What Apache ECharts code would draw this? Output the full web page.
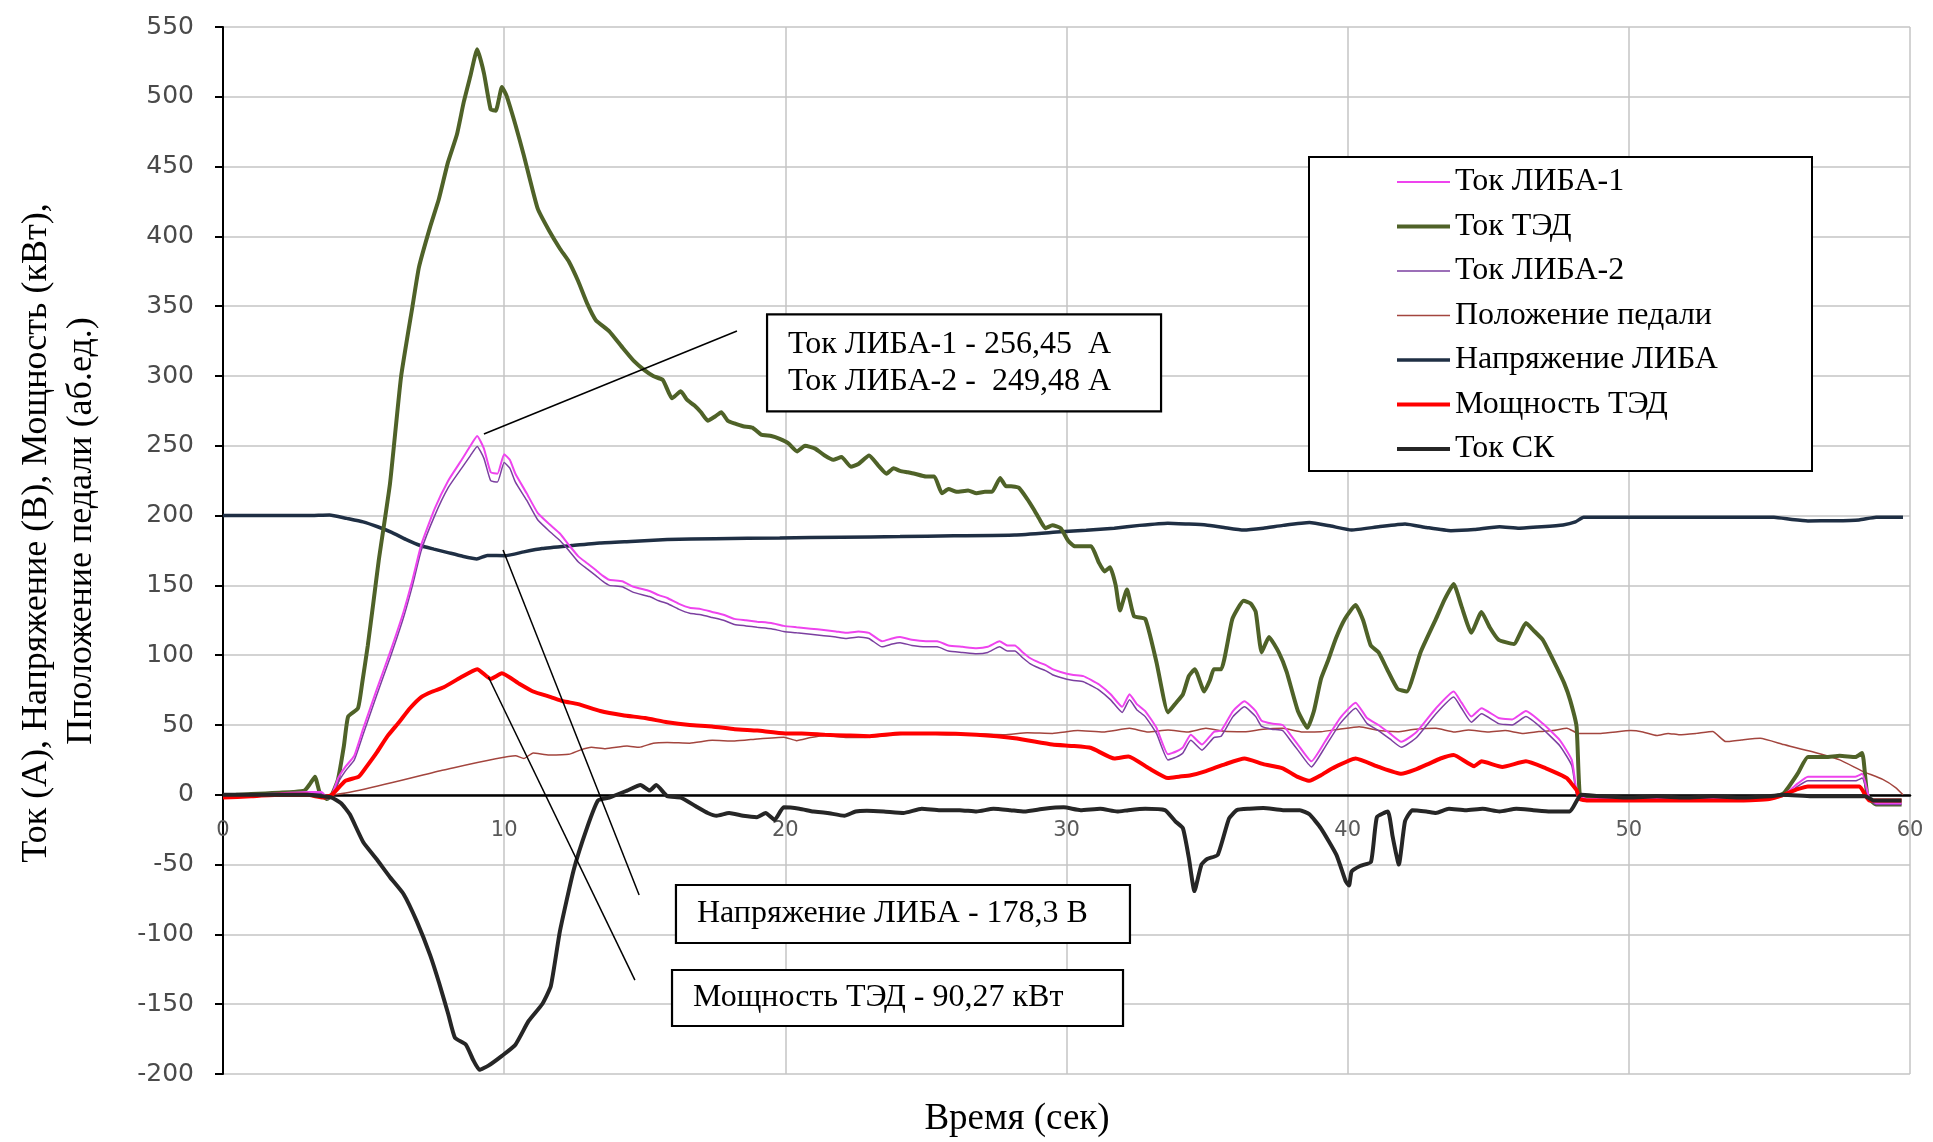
<!DOCTYPE html>
<html><head><meta charset="utf-8">
<script src="https://cdn.jsdelivr.net/npm/echarts@6/dist/echarts.min.js"></script>
<style>html,body{margin:0;padding:0;background:#fff}#c{width:1933px;height:1142px}</style>
</head><body><div id="c"></div>
<script>
// ---------- DATA ----------
const seriesNames = ['Ток ЛИБА-1','Ток ТЭД','Ток ЛИБА-2','Положение педали','Напряжение ЛИБА','Мощность ТЭД','Ток СК'];
const xRange = [0, 60, 10];
const yRange = [-200, 550, 50];

const tokLiba1 = [[0,-1],[1,0],[2,1],[3,2],[3.5,2],[3.7,-2],[3.87,0],[4.1,12],[4.35,20],[4.67,28],[4.98,47],[5.46,75],[5.94,102],[6.42,131],[6.74,154],[7.05,179],[7.53,205],[8.01,225],[8.49,240],[8.8,250],[9.04,257],[9.28,248],[9.52,231],[9.76,230],[10.0,244],[10.2,240],[10.4,230],[10.8,216],[11.19,202],[11.6,194],[11.99,187],[12.3,179],[12.63,171],[12.94,166],[13.26,161],[13.5,157],[13.74,154],[14.2,153],[14.6,149],[15.17,146],[15.5,143],[15.8,141],[16.2,137],[16.6,134],[17.0,133],[17.4,131],[17.8,129],[18.19,126],[18.6,125],[19.0,124],[19.5,123],[19.94,121],[20.4,120],[20.9,119],[21.37,118],[21.8,117],[22.16,116],[22.6,117],[22.97,116],[23.44,110],[23.8,112],[24.08,113],[24.5,111],[25.0,110],[25.4,110],[25.8,107],[26.3,106],[26.8,105],[27.2,106],[27.62,110],[27.9,107],[28.16,107],[28.45,102],[28.7,98],[29.0,95],[29.25,93],[29.5,90],[29.79,88],[30.2,86],[30.6,85],[30.9,82],[31.16,79],[31.57,72],[31.98,63],[32.24,72],[32.5,65],[32.8,60],[33.2,48],[33.61,29],[33.9,31],[34.14,34],[34.42,43],[34.82,36],[35.24,45],[35.5,46],[35.92,60],[36.33,67],[36.73,60],[36.94,53],[37.3,51],[37.69,50],[38.0,42],[38.23,36],[38.71,24],[39.19,38],[39.73,55],[40.28,66],[40.69,55],[41.1,50],[41.5,44],[41.91,38],[42.45,45],[43.14,62],[43.77,74],[44.05,66],[44.4,56],[44.76,62],[45.37,55],[45.85,54],[46.34,60],[46.94,51],[47.55,39],[47.97,25],[48.14,3],[48.26,-1],[48.5,-3],[50,-3],[52,-3],[54,-3],[55.5,0],[56.0,8],[56.37,13],[57,13],[58.06,13],[58.3,15],[58.55,-2],[58.8,-6],[59.7,-6]];

const tokLiba2 = [[0,-2],[1,-1],[2,0],[3,1],[3.5,1],[3.7,-3],[3.87,-1],[4.1,9],[4.35,17],[4.67,25],[4.98,43],[5.46,71],[5.94,98],[6.42,127],[6.74,150],[7.05,175],[7.53,200],[8.01,220],[8.49,234],[8.8,243],[9.04,249.5],[9.28,241],[9.52,225],[9.76,224],[10.0,238],[10.2,234],[10.4,224],[10.8,211],[11.19,197],[11.6,189],[11.99,182],[12.3,175],[12.63,167],[12.94,162],[13.26,157],[13.5,153],[13.74,150],[14.2,149],[14.6,145],[15.17,142],[15.5,139],[15.8,137],[16.2,133],[16.6,130],[17.0,129],[17.4,127],[17.8,125],[18.19,122],[18.6,121],[19.0,120],[19.5,119],[19.94,117],[20.4,116],[20.9,115],[21.37,114],[21.8,113],[22.16,112],[22.6,113],[22.97,112],[23.44,106],[23.8,108],[24.08,109],[24.5,107],[25.0,106],[25.4,106],[25.8,103],[26.3,102],[26.8,101],[27.2,102],[27.62,106],[27.9,103],[28.16,103],[28.45,98],[28.7,94],[29.0,91],[29.25,89],[29.5,86],[29.79,84],[30.2,82],[30.6,81],[30.9,78],[31.16,75],[31.57,68],[31.98,59],[32.24,68],[32.5,61],[32.8,56],[33.2,44],[33.61,25],[33.9,27],[34.14,30],[34.42,39],[34.82,32],[35.24,41],[35.5,42],[35.92,56],[36.33,63],[36.73,56],[36.94,49],[37.3,47],[37.69,46],[38.0,38],[38.23,32],[38.71,20],[39.19,34],[39.73,51],[40.28,62],[40.69,51],[41.1,46],[41.5,40],[41.91,34],[42.45,41],[43.14,58],[43.77,70],[44.05,62],[44.4,52],[44.76,58],[45.37,51],[45.85,50],[46.34,56],[46.94,47],[47.55,35],[47.97,21],[48.14,0],[48.26,-3],[48.5,-4],[50,-4],[52,-4],[54,-4],[55.5,-1],[56.0,6],[56.37,10],[57,10],[58.06,10],[58.3,12],[58.55,-3],[58.8,-7],[59.7,-7]];

const tokTed = [[0,-1],[0.5,0],[1,0.5],[1.5,1],[2,1.5],[2.5,2],[2.9,3],[3.1,8],[3.27,13],[3.45,1],[3.7,-3],[3.87,0],[4.09,11],[4.3,35],[4.45,56],[4.8,62],[4.95,80],[5.15,107],[5.35,138],[5.54,168],[5.94,223],[6.33,299],[6.74,350],[6.97,378],[7.37,407],[7.68,427],[8.0,453],[8.32,473],[8.56,496],[8.8,515],[9.04,534],[9.28,517],[9.52,491],[9.7,490],[9.92,507],[10.08,501],[10.4,480],[10.7,458],[11.19,420],[11.6,404],[11.99,391],[12.3,382],[12.63,368],[12.95,352],[13.26,340],[13.74,332],[14.22,320],[14.6,311],[15.0,304],[15.3,300],[15.65,297],[15.97,284],[16.28,289],[16.5,283],[16.76,279],[17.0,274],[17.24,268],[17.5,271],[17.72,274],[17.95,268],[18.19,266],[18.5,264],[18.83,263],[19.14,258],[19.5,257],[19.8,255],[20.1,252],[20.42,246],[20.7,250],[21.06,248],[21.4,243],[21.7,240],[22.0,242],[22.33,235],[22.6,237],[22.98,243],[23.3,236],[23.6,230],[23.85,234],[24.08,232],[24.35,231],[24.6,230],[25.0,228],[25.3,228],[25.57,216],[25.8,219],[26.1,217],[26.5,218],[26.8,216],[27.1,217],[27.35,217],[27.64,227],[27.85,221],[28.03,221],[28.3,220],[28.6,212],[28.85,204],[29.05,197],[29.25,191],[29.5,193],[29.79,191],[30.06,182],[30.3,178],[30.48,178],[30.7,178],[30.88,178],[31.16,166],[31.35,160],[31.55,163],[31.75,150],[31.9,132],[32.15,147],[32.4,128],[32.8,126],[33.2,95],[33.61,59],[33.9,66],[34.14,72],[34.35,85],[34.56,90],[34.9,74],[35.1,82],[35.24,90],[35.5,90],[35.9,126],[36.3,139],[36.55,137],[36.73,131],[36.94,102],[37.2,113],[37.55,102],[37.83,88],[38.23,60],[38.57,48],[38.8,60],[39.05,83],[39.3,96],[39.58,112],[39.9,126],[40.28,136],[40.55,125],[40.82,107],[41.1,102],[41.4,90],[41.77,76],[42.1,74],[42.59,102],[43.14,126],[43.45,140],[43.77,151],[44.05,135],[44.4,116],[44.76,131],[45.05,120],[45.37,111],[45.91,108],[46.34,123],[46.6,118],[46.94,111],[47.2,101],[47.42,92],[47.7,80],[47.91,68],[48.14,49],[48.26,-1],[48.5,-3],[49,-3],[50,-3],[51,-2],[52,-3],[53,-2],[54,-3],[55,-2],[55.5,1],[56.0,15],[56.37,27],[57,27],[57.5,28],[58.06,27],[58.3,30],[58.49,-1],[58.8,-7],[59.7,-7]];

const pedal = [[0,0],[3.87,0],[7.85,17.8],[10.4,28],[10.7,26],[11.03,30],[11.6,28.5],[12.3,29],[12.7,32],[13.1,34],[13.6,33],[14.37,35],[14.8,34],[15.3,37],[15.8,37.5],[16.6,37],[17.4,39],[18.2,38.5],[19.0,40],[19.95,41.3],[20.4,38.8],[20.9,41],[21.4,42.5],[22.2,41],[22.97,41.3],[23.9,43],[24.85,43.7],[25.8,43],[26.8,43.7],[27.8,43],[28.6,44.5],[29.5,44],[30.4,46],[31.3,45],[32.24,47.6],[32.9,45],[33.61,46.5],[34.3,45],[34.96,47.6],[35.6,45.5],[36.33,45.2],[37.0,47],[37.69,47.6],[38.4,45],[39.05,45.2],[39.7,47],[40.41,48.8],[41.1,46],[41.77,45.2],[42.4,47],[43.14,47.6],[43.8,45],[44.3,46.5],[45.0,45],[45.6,46],[46.2,44],[46.8,45.3],[47.3,46],[47.8,47.7],[48.2,44],[49,44],[50.07,46],[50.5,45],[51,42.5],[51.4,44],[51.8,43],[52.4,44],[52.98,45.3],[53.45,38.1],[54.0,39.3],[54.67,40.5],[55.5,36],[56.5,31],[57.5,25],[58.3,17],[59.03,11],[59.5,5],[59.75,0]];

const voltage = [[0,200],[1,200],[2,200],[3,200],[3.79,200.5],[4.4,198],[4.98,195.5],[5.5,192],[6.0,188],[6.5,183],[7.04,178.4],[7.5,176],[8.0,173.5],[8.5,171],[9.03,169],[9.4,171.5],[10.07,171.3],[10.7,174],[11.35,176.4],[12.4,178.5],[13.4,180.4],[14.5,181.5],[15.8,182.8],[17.5,183.5],[19.8,184],[22,184.5],[24.08,185],[26,185.5],[28.16,186.1],[29.8,188.4],[30.7,189.5],[31.7,191],[32.6,193],[33.6,194.6],[34.3,194],[34.96,193.3],[35.6,191.5],[36.3,189.7],[37.0,191],[37.7,193],[38.64,195],[39.4,192.5],[40.14,189.7],[41.1,192],[42.04,194],[42.8,191.5],[43.67,189.2],[44.5,190],[45.4,192],[46.1,191],[46.9,192],[47.66,193.3],[48.1,195.5],[48.39,198.8],[50,198.8],[52,198.8],[54,198.8],[55.16,198.8],[55.8,197.2],[56.37,196.2],[57.3,196.3],[58.19,196.9],[58.8,198.8],[59.75,198.8]];

const power = [[0,-2],[1,-1],[2,0],[3,0],[3.56,-2],[3.87,0],[4.35,10],[4.83,13],[5.1,20],[5.46,30],[5.85,42],[6.26,52],[6.65,62],[7.05,70],[7.45,74],[7.85,77],[8.45,84],[9.04,90],[9.52,83],[9.92,87],[10.5,80],[11.03,74],[11.66,70],[12.1,67],[12.63,65],[13.42,60],[14.22,57],[15.01,55],[15.8,52],[16.6,50],[17.39,49],[18.2,47],[19.0,46],[20.0,44],[20.58,44],[21.4,43],[22.17,42.5],[23.0,42],[24.08,44],[25.4,44],[26.8,43],[28.16,40.5],[29.5,36],[30.2,35],[30.88,33.5],[31.7,26],[32.2,27.5],[32.93,19],[33.61,12],[34.0,13],[34.42,14],[34.96,17],[35.65,22],[36.33,26],[37.0,22],[37.69,19],[38.2,13],[38.64,10],[39.05,14],[39.46,19],[40.28,26],[41.1,20],[41.91,15],[42.4,18],[42.86,22],[43.3,26],[43.77,28.5],[44.5,20.5],[44.76,24],[45.5,20],[46.34,24],[47.05,19],[47.5,15],[47.79,12],[48.14,3.4],[48.26,-3],[48.5,-4],[50,-4],[52,-4],[54,-4],[55,-3],[55.5,0],[56.0,4],[56.37,6],[58.2,6],[58.55,-4],[59.7,-4]];

const tokSk = [[0,0],[1,0],[2,0],[3,0],[3.5,-1],[3.87,-2],[4.2,-6],[4.51,-14],[4.99,-34],[5.46,-46],[5.94,-59],[6.42,-71],[6.9,-91],[7.37,-115],[7.69,-135],[8.01,-157],[8.25,-174],[8.64,-179],[8.9,-190],[9.12,-197],[9.44,-194],[9.92,-187],[10.4,-179],[10.87,-162],[11.35,-150],[11.66,-137],[11.98,-98],[12.47,-54],[12.94,-24],[13.34,-4],[13.74,-2],[14.37,3],[14.85,7],[15.17,3],[15.41,7],[15.8,-1],[16.28,-2],[16.8,-8],[17.24,-13],[17.56,-15],[18.0,-13],[18.5,-15],[18.99,-16],[19.3,-13],[19.62,-18],[19.94,-9],[20.5,-10],[21.0,-12],[21.5,-13],[22.1,-15],[22.5,-12],[22.9,-11.5],[23.5,-12],[24.2,-13],[24.85,-10],[25.5,-11],[26.2,-11],[26.8,-12],[27.4,-10],[28.0,-11],[28.5,-12],[29.2,-10],[29.9,-9],[30.5,-11],[31.2,-10],[31.8,-12],[32.2,-11],[32.8,-10],[33.5,-11],[33.87,-19],[34.14,-24],[34.35,-45],[34.55,-69],[34.8,-50],[35.0,-46],[35.38,-43],[35.78,-17],[36.06,-11],[36.5,-10],[37.0,-9.5],[37.7,-11],[38.3,-11],[38.64,-14],[39.05,-24],[39.6,-43],[39.93,-62],[40.05,-65],[40.14,-55],[40.44,-51],[40.83,-48],[41.04,-16],[41.43,-12],[41.6,-30],[41.82,-50],[42.04,-19],[42.3,-11],[42.8,-12],[43.14,-13],[43.6,-10],[44.2,-11],[44.8,-10],[45.4,-12],[46.0,-10],[46.6,-11],[47.2,-12],[47.9,-12],[48.3,0],[49,-1],[50,-2],[51,-1],[52,-2],[53,-1],[54,-2],[55,-1],[55.5,0],[56.5,-1],[58.4,-1],[58.7,-4],[59.7,-4]];

// annotations (data coordinates)
const leader1 = [[9.28,258.5],[18.28,332.2]];
const leader2 = [[9.96,175.4],[14.80,-71.8]];
const leader3 = [[9.44,84.4],[14.65,-132.7]];
const noteTexts = [
  ['Ток ЛИБА-1 - 256,45  А','Ток ЛИБА-2 -  249,48 А'],
  ['Напряжение ЛИБА - 178,3 В'],
  ['Мощность ТЭД - 90,27 кВт']
];
const noteAnchors = [[19.35,344.1],[16.11,-64.6],[15.97,-125.5]];
const xTitle = 'Время (сек)';
const yTitle = ['Ток (А), Напряжение (В), Мощность (кВт),','Пположение педали (аб.ед.)'];

// ---------- CHART ----------
const chart = echarts.init(document.getElementById('c'), null, {renderer:'canvas'});
const SERIF = '"Liberation Serif", "Times New Roman", serif';
const leaderStyle = {silent:true, symbol:['none','none'], label:{show:false}, emphasis:{disabled:true},
  lineStyle:{color:'#000', width:1.5, type:'solid'}};
const styles = {
  'Ток ЛИБА-1':['#EE44EE',2],
  'Ток ТЭД':['#4F6228',4],
  'Ток ЛИБА-2':['#7B3FA0',1.5],
  'Положение педали':['#A3453E',1.5],
  'Напряжение ЛИБА':['#1F2F44',3.5],
  'Мощность ТЭД':['#FF0000',4],
  'Ток СК':['#262626',4]
};
function mk(name, data, extra) {
  const [color, width] = styles[name];
  return Object.assign({name, type:'line', data, symbol:'none', showSymbol:false, smooth:0.15,
    lineStyle:{color, width}, itemStyle:{color}, emphasis:{disabled:true}}, extra || {});
}
// y-position of the zero line below the plot bottom (grid height * share of range below 0)
const gridTop = 27, gridBottom = 68, H = 1142;
const zeroOffset = (H - gridTop - gridBottom) * (0 - yRange[0]) / (yRange[1] - yRange[0]);

const option = {
  animation:false,
  backgroundColor:'#fff',
  grid:{left:223, right:23, top:gridTop, bottom:gridBottom, containLabel:false},
  xAxis:{type:'value', min:xRange[0], max:xRange[1], interval:xRange[2], position:'bottom', offset:-zeroOffset,
    axisLine:{onZero:false, lineStyle:{color:'#000', width:2.5}},
    axisTick:{show:false},
    axisLabel:{margin:25, fontFamily:'"DejaVu Sans", sans-serif', fontSize:21, color:'#595959', showMinLabel:true, showMaxLabel:true},
    splitLine:{show:true, lineStyle:{color:'#c4c4c4', width:1.5}}},
  yAxis:{type:'value', min:yRange[0], max:yRange[1], interval:yRange[2],
    axisLine:{show:true, onZero:false, lineStyle:{color:'#000', width:2}},
    axisTick:{show:true, inside:false, length:8, lineStyle:{color:'#000', width:2}},
    axisLabel:{margin:29, fontFamily:'"DejaVu Sans", sans-serif', fontSize:25, color:'#4a4a4a'},
    splitLine:{show:true, lineStyle:{color:'#c4c4c4', width:1.5}}},
  legend:{orient:'vertical', left:1309, top:157, padding:[9,85,6,86], itemGap:12.5, itemWidth:53, itemHeight:14,
    backgroundColor:'#fff', borderColor:'#000', borderWidth:2, selectedMode:false,
    itemStyle:{opacity:0, borderWidth:0},
    textStyle:{fontFamily:SERIF, fontSize:32, color:'#000', lineHeight:32, width:272},
    data:seriesNames.map(n => ({name:n, lineStyle:{width:styles[n][1], color:styles[n][0]}}))},
  series:[
    mk('Положение педали', pedal),
    mk('Напряжение ЛИБА', voltage, {markLine:Object.assign({data:[[{coord:leader2[0]},{coord:leader2[1]}]]}, leaderStyle)}),
    mk('Ток ТЭД', tokTed),
    mk('Ток ЛИБА-2', tokLiba2),
    mk('Ток ЛИБА-1', tokLiba1, {markLine:Object.assign({data:[[{coord:leader1[0]},{coord:leader1[1]}]]}, leaderStyle)}),
    mk('Мощность ТЭД', power, {markLine:Object.assign({data:[[{coord:leader3[0]},{coord:leader3[1]}]]}, leaderStyle)}),
    mk('Ток СК', tokSk)
  ]
};
chart.setOption(option);

// annotation boxes and axis titles
const boxSizes = [[394,97],[454,58],[451,56]];
const graphics = [];
noteTexts.forEach((lines, i) => {
  const p = chart.convertToPixel({gridIndex:0}, noteAnchors[i]);
  const w = boxSizes[i][0], h = boxSizes[i][1];
  const children = [{type:'rect', shape:{x:0,y:0,width:w,height:h}, style:{fill:'#fff', stroke:'#000', lineWidth:2.2}}];
  const lh = 37.5;
  lines.forEach((t, j) => {
    children.push({type:'text', x:21, y:h/2 + (j - (lines.length-1)/2)*lh,
      style:{text:t, font:'32px ' + SERIF, fill:'#000', align:'left', verticalAlign:'middle'}});
  });
  graphics.push({type:'group', x:p[0], y:p[1], z:100, children});
});
graphics.push({type:'text', x:1017, y:1119, z:100,
  style:{text:xTitle, font:'37px ' + SERIF, fill:'#000', align:'center', verticalAlign:'middle'}});
graphics.push({type:'text', x:37, y:533, rotation:Math.PI/2, z:100,
  style:{text:yTitle[0], font:'36px ' + SERIF, fill:'#000', align:'center', verticalAlign:'middle'}});
graphics.push({type:'text', x:82, y:531, rotation:Math.PI/2, z:100,
  style:{text:yTitle[1], font:'36px ' + SERIF, fill:'#000', align:'center', verticalAlign:'middle'}});
chart.setOption({graphic:graphics});
</script></body></html>
